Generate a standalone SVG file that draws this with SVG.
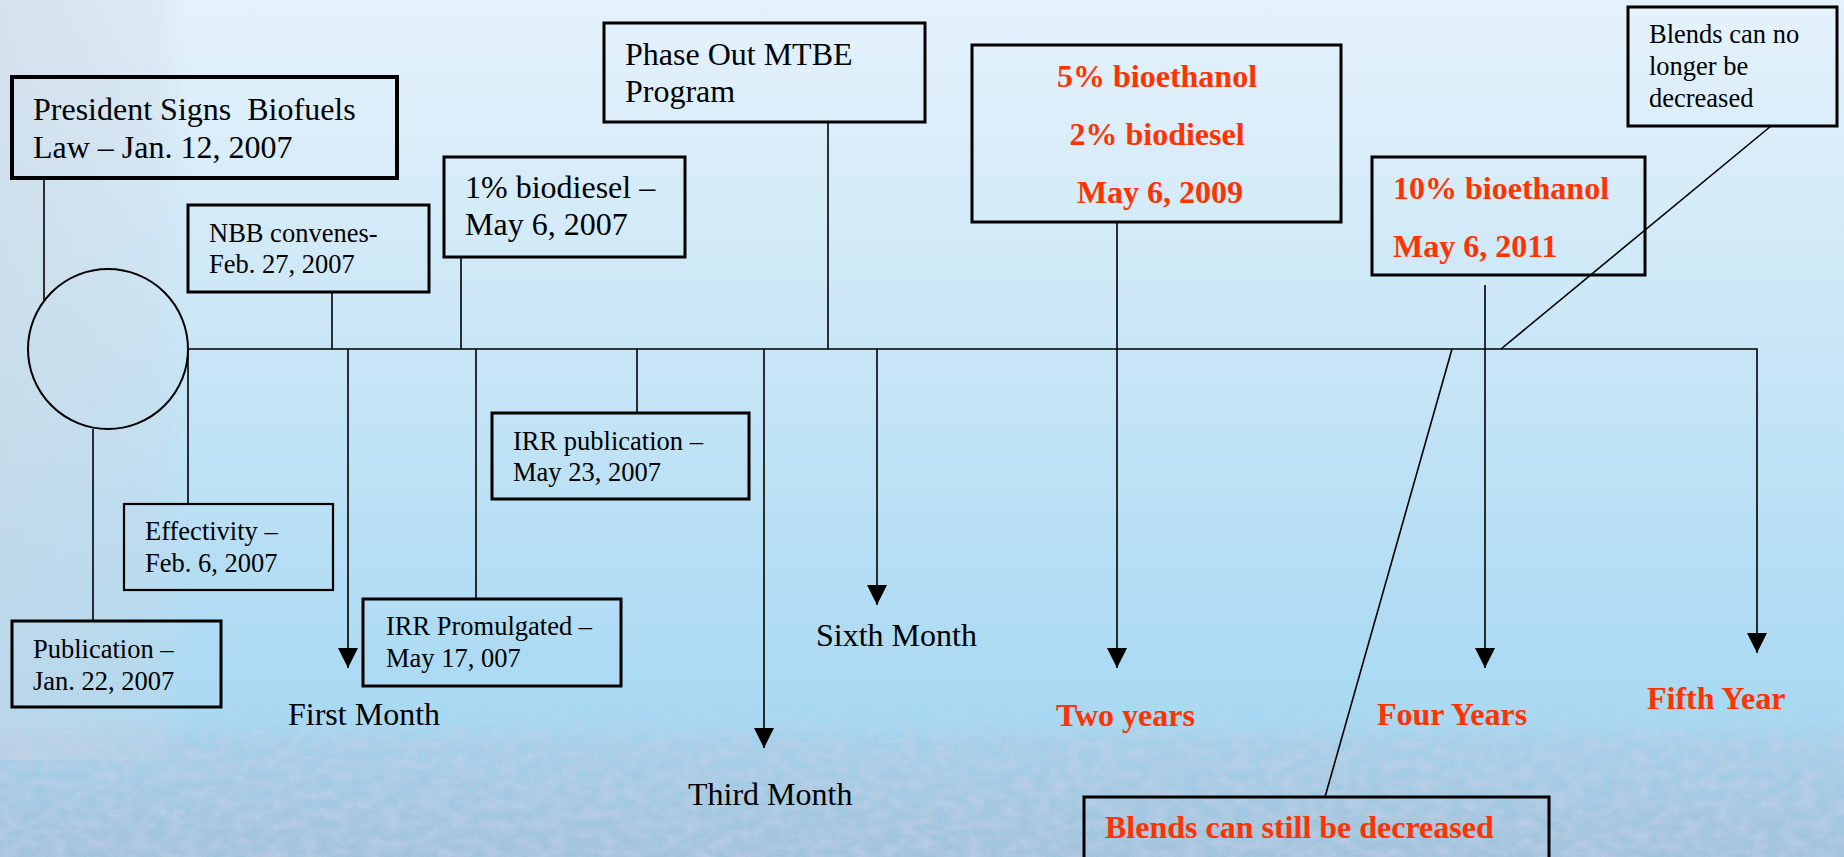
<svg xmlns="http://www.w3.org/2000/svg" width="1844" height="857" viewBox="0 0 1844 857">
<defs>
<linearGradient id="bg" x1="0" y1="0" x2="0" y2="1">
<stop offset="0" stop-color="#e5f2fb"/>
<stop offset="0.35" stop-color="#cde8f7"/>
<stop offset="0.65" stop-color="#b6def4"/>
<stop offset="0.84" stop-color="#a8d9f2"/>
<stop offset="0.87" stop-color="#a6cfe8"/>
<stop offset="1" stop-color="#a2c3dc"/>
</linearGradient>
<linearGradient id="leftband" x1="0" y1="0" x2="1" y2="0">
<stop offset="0" stop-color="#c9d6e2" stop-opacity="0.55"/>
<stop offset="0.8" stop-color="#c9d6e2" stop-opacity="0.3"/>
<stop offset="1" stop-color="#c9d6e2" stop-opacity="0"/>
</linearGradient>
<linearGradient id="fadeIn" x1="0" y1="0" x2="0" y2="1">
<stop offset="0" stop-color="#fff" stop-opacity="0"/>
<stop offset="0.3" stop-color="#fff" stop-opacity="1"/>
<stop offset="1" stop-color="#fff" stop-opacity="1"/>
</linearGradient>
<mask id="bottomMask" maskUnits="userSpaceOnUse" x="0" y="700" width="1844" height="157">
<rect x="0" y="700" width="1844" height="157" fill="url(#fadeIn)"/>
</mask>
<filter id="grain" x="0" y="0" width="100%" height="100%" filterUnits="objectBoundingBox">
<feTurbulence type="fractalNoise" baseFrequency="0.06 0.1" numOctaves="3" seed="7"/>
<feColorMatrix type="matrix" values="0 0 0 0 0.58  0 0 0 0 0.64  0 0 0 0 0.80  0 0 0 1.8 -0.6"/>
</filter>
<marker id="arrow" markerUnits="userSpaceOnUse" markerWidth="20" markerHeight="20" refX="20" refY="10" orient="auto" viewBox="0 0 20 20">
<path d="M0,0 L20,10 L0,20 z" fill="#000"/>
</marker>
<style>
.box{fill:none;stroke:#000;stroke-width:3}
.thick{stroke-width:4}
.thin{stroke-width:2.2}
.t{font-family:"Liberation Serif","Times New Roman",serif;fill:#000}
.s{font-size:26.5px}
.m{font-size:32px}
.r{font-family:"Liberation Serif","Times New Roman",serif;font-size:32px;font-weight:bold;fill:#ff3300}
.ln{fill:none;stroke:#000;stroke-width:1.6}
</style>
</defs>

<rect x="0" y="0" width="1844" height="857" fill="url(#bg)"/>
<rect x="0" y="0" width="190" height="760" fill="url(#leftband)"/>
<rect x="0" y="700" width="1844" height="157" filter="url(#grain)" mask="url(#bottomMask)" opacity="0.6"/>

<g id="connectors">
<path class="ln" d="M188,349 H1757 V653" marker-end="url(#arrow)"/>
<line class="ln" x1="44" y1="178" x2="44" y2="301"/>
<line class="ln" x1="93" y1="429" x2="93" y2="621"/>
<line class="ln" x1="188" y1="349" x2="188" y2="504"/>
<line class="ln" x1="332" y1="292" x2="332" y2="349"/>
<line class="ln" x1="461" y1="257" x2="461" y2="349"/>
<line class="ln" x1="476" y1="349" x2="476" y2="599"/>
<line class="ln" x1="637" y1="349" x2="637" y2="413"/>
<line class="ln" x1="828" y1="122" x2="828" y2="349"/>
<line class="ln" x1="348" y1="349" x2="348" y2="668" marker-end="url(#arrow)"/>
<line class="ln" x1="764" y1="349" x2="764" y2="748" marker-end="url(#arrow)"/>
<line class="ln" x1="877" y1="349" x2="877" y2="605" marker-end="url(#arrow)"/>
<line class="ln" x1="1117" y1="222" x2="1117" y2="668" marker-end="url(#arrow)"/>
<line class="ln" x1="1485" y1="285" x2="1485" y2="668" marker-end="url(#arrow)"/>
<line class="ln" x1="1771" y1="126" x2="1501" y2="349"/>
<line class="ln" x1="1452" y1="349" x2="1325" y2="797"/>
</g>

<g id="start-circle">
<circle cx="108" cy="349" r="80" fill="none" stroke="#000" stroke-width="2"/>
</g>

<g id="president">
<rect class="box thick" x="12" y="77" width="385" height="101"/>
<text class="t m" x="33" y="120" xml:space="preserve">President Signs  Biofuels</text>
<text class="t m" x="33" y="158">Law – Jan. 12, 2007</text>
</g>

<g id="nbb">
<rect class="box" x="188" y="205" width="241" height="87"/>
<text class="t s" x="209" y="242">NBB convenes-</text>
<text class="t s" x="209" y="273">Feb. 27, 2007</text>
</g>

<g id="biodiesel1">
<rect class="box" x="444" y="157" width="241" height="100"/>
<text class="t m" x="465" y="198">1% biodiesel –</text>
<text class="t m" x="465" y="235">May 6, 2007</text>
</g>

<g id="phaseout">
<rect class="box" x="604" y="23" width="321" height="99"/>
<text class="t m" x="625" y="65">Phase Out MTBE</text>
<text class="t m" x="625" y="102">Program</text>
</g>

<g id="blend2009">
<rect class="box" x="972" y="45" width="369" height="177"/>
<text class="r" x="1157" y="87" text-anchor="middle">5% bioethanol</text>
<text class="r" x="1157" y="145" text-anchor="middle">2% biodiesel</text>
<text class="r" x="1160" y="203" text-anchor="middle">May 6, 2009</text>
</g>

<g id="blend2011">
<rect class="box" x="1372" y="157" width="273" height="118"/>
<text class="r" x="1393" y="199">10% bioethanol</text>
<text class="r" x="1393" y="257">May 6, 2011</text>
</g>

<g id="no-longer">
<rect class="box" x="1628" y="7" width="209" height="119"/>
<text class="t s" x="1649" y="43">Blends can no</text>
<text class="t s" x="1649" y="75">longer be</text>
<text class="t s" x="1649" y="107">decreased</text>
</g>

<g id="effectivity">
<rect class="box thin" x="124" y="504" width="209" height="86"/>
<text class="t s" x="145" y="540">Effectivity –</text>
<text class="t s" x="145" y="572">Feb. 6, 2007</text>
</g>

<g id="publication">
<rect class="box" x="12" y="621" width="209" height="86"/>
<text class="t s" x="33" y="658">Publication –</text>
<text class="t s" x="33" y="690">Jan. 22, 2007</text>
</g>

<g id="irr-promulgated">
<rect class="box" x="363" y="599" width="258" height="87"/>
<text class="t s" x="386" y="635">IRR Promulgated –</text>
<text class="t s" x="386" y="667">May 17, 007</text>
</g>

<g id="irr-publication">
<rect class="box" x="492" y="413" width="257" height="86"/>
<text class="t s" x="513" y="450">IRR publication –</text>
<text class="t s" x="513" y="481">May 23, 2007</text>
</g>

<g id="still-decreased">
<rect class="box" x="1084" y="797" width="465" height="66"/>
<text class="r" x="1105" y="838">Blends can still be decreased</text>
</g>

<g id="labels">
<text class="t m" x="288" y="725">First Month</text>
<text class="t m" x="688" y="805">Third Month</text>
<text class="t m" x="816" y="646">Sixth Month</text>
<text class="r" x="1056" y="726">Two years</text>
<text class="r" x="1377" y="725">Four Years</text>
<text class="r" x="1647" y="709">Fifth Year</text>
</g>
</svg>
